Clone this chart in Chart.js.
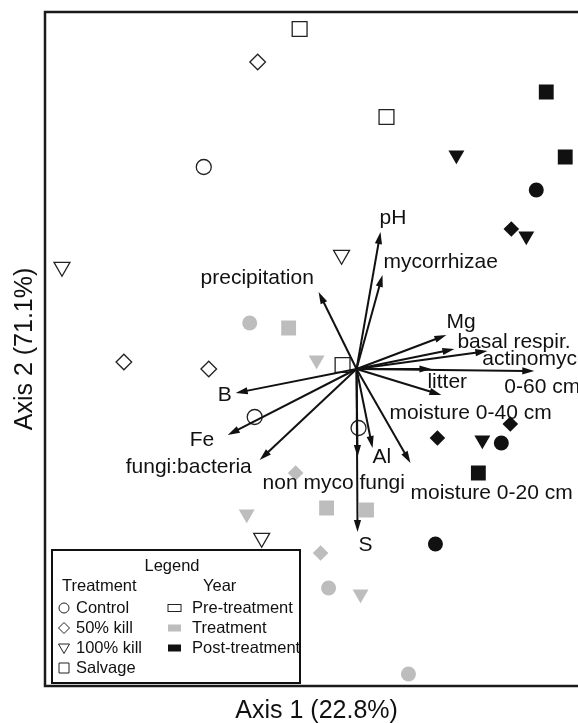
<!DOCTYPE html>
<html>
<head>
<meta charset="utf-8">
<script src="https://cdn.jsdelivr.net/npm/chart.js@4"></script>
<style>
  html, body { margin: 0; padding: 0; overflow: hidden; background: #fff; }
</style>
</head>
<body>
<canvas id="ordination" width="600" height="723"></canvas>
<script>
// group names
const treatments = ["Control", "50% kill", "100% kill", "Salvage"];
const years = ["Pre-treatment", "Treatment", "Post-treatment"];

// site scores [axis 1, axis 2], one array per year and treatment
const preControl = [[-0.765, 1.01], [-0.51, -0.24], [0.01, -0.295]];
const pre50 = [[-0.495, 1.535], [-1.165, 0.035], [-0.74, 0.0]];
const pre100 = [[-1.475, 0.51], [-0.075, 0.57], [-0.475, -0.845]];
const preSalvage = [[-0.285, 1.70], [0.15, 1.26], [-0.07, 0.02]];

const trtControl = [[-0.535, 0.23], [-0.14, -1.095], [0.26, -1.525]];
const trt50 = [[-0.305, -0.52], [-0.18, -0.92]];
const trt100 = [[-0.2, 0.045], [-0.55, -0.725], [0.02, -1.125]];
const trtSalvage = [[-0.34, 0.205], [-0.15, -0.695], [0.05, -0.705]];

const postControl = [[0.9, 0.895], [0.725, -0.37], [0.395, -0.875]];
const post50 = [[0.775, 0.7], [0.77, -0.275], [0.405, -0.345]];
const post100 = [[0.5, 1.07], [0.85, 0.665], [0.63, -0.355]];
const postSalvage = [[0.95, 1.385], [1.045, 1.06], [0.61, -0.52]];

// environmental vectors (arrow tips)
const vectorNames = ["pH", "mycorrhizae", "precipitation", "Mg", "basal respir.", "actinomycetes",
  "0-60 cm", "litter", "moisture 0-40 cm", "B", "Fe", "fungi:bacteria", "non myco fungi", "S", "Al",
  "moisture 0-20 cm"];
const vectorX = [0.12, 0.13, -0.19, 0.45, 0.49, 0.655, 0.89, 0.375, 0.425, -0.605, -0.645, -0.485,
  0.005, 0.005, 0.08, 0.27];
const vectorY = [0.685, 0.47, 0.385, 0.17, 0.10, 0.09, -0.01, 0.0, -0.13, -0.12, -0.33, -0.455,
  -0.44, -0.815, -0.395, -0.47];

// label placement, pixels from the arrow tip (left edge, middle)
const labelOffset = [[-1, -14], [1, -13], [-118, -14], [0, -13], [3, -7], [-5, 8], [-30, 16], [-4, 13],
  [-52, 18], [-18, 2], [-38, 5], [-134, 7], [-95, 26], [1, 13], [0, 9], [0, 30]];

const FONT = '"Liberation Sans", Arial, Helvetica, sans-serif';
const INK = "#111";
const GREY = "#bdbdbd";

// look per year and per treatment
const yearStyle = [
  { fill: "#fff", stroke: "#222", width: 1.3 },
  { fill: GREY, stroke: GREY, width: 0 },
  { fill: INK, stroke: INK, width: 0 }
];
const treatmentStyle = [
  { pointStyle: "circle", radius: 7.5, rotation: 0 },
  { pointStyle: "rectRot", radius: 7.8, rotation: 0 },
  { pointStyle: "triangle", radius: 9.2, rotation: 180 },
  { pointStyle: "rect", radius: 10.5, rotation: 0 }
];

const groups = [
  [preControl, pre50, pre100, preSalvage],
  [trtControl, trt50, trt100, trtSalvage],
  [postControl, post50, post100, postSalvage]
];

let datasets = [];
groups.forEach((row, yi) => {
  row.forEach((pts, ti) => {
    const ys = yearStyle[yi], ts = treatmentStyle[ti];
    datasets.push({
      label: years[yi] + " / " + treatments[ti],
      data: pts.map(p => ({ x: p[0], y: p[1] })),
      pointStyle: ts.pointStyle,
      pointRadius: ts.radius,
      rotation: ts.rotation,
      backgroundColor: ys.fill,
      borderColor: ys.stroke,
      borderWidth: ys.width
    });
  });
});

function arrow(ctx, x0, y0, x1, y1) {
  const ang = Math.atan2(y1 - y0, x1 - x0);
  const head = 12, half = 3.6;
  const c = Math.cos(ang), s = Math.sin(ang);
  ctx.beginPath();
  ctx.moveTo(x0, y0);
  ctx.lineTo(x1 - c * head * 0.7, y1 - s * head * 0.7);
  ctx.stroke();
  ctx.beginPath();
  ctx.moveTo(x1, y1);
  ctx.lineTo(x1 - head * c + half * s, y1 - head * s - half * c);
  ctx.lineTo(x1 - head * c - half * s, y1 - head * s + half * c);
  ctx.closePath();
  ctx.fill();
}

function drawSymbol(ctx, shape, x, y, fill, stroke) {
  ctx.beginPath();
  if (shape == 0) {
    ctx.arc(x, y, 5, 0, Math.PI * 2);
  } else if (shape == 1) {
    ctx.moveTo(x, y - 5.5); ctx.lineTo(x + 5.5, y); ctx.lineTo(x, y + 5.5); ctx.lineTo(x - 5.5, y);
    ctx.closePath();
  } else if (shape == 2) {
    ctx.moveTo(x - 5.5, y - 4); ctx.lineTo(x + 5.5, y - 4); ctx.lineTo(x, y + 5.5);
    ctx.closePath();
  } else {
    ctx.rect(x - 5, y - 5, 10, 10);
  }
  ctx.fillStyle = fill;
  ctx.fill();
  ctx.lineWidth = 1;
  ctx.strokeStyle = stroke;
  ctx.stroke();
}

// arrows, labels, frame, axis titles and the legend box
const biplotExtras = {
  id: "biplotExtras",
  afterDatasetsDraw(chart) {
    const { ctx, chartArea: a, scales: { x, y } } = chart;
    const x0 = x.getPixelForValue(0), y0 = y.getPixelForValue(0);
    ctx.save();

    ctx.strokeStyle = INK;
    ctx.fillStyle = INK;
    ctx.lineWidth = 2;
    for (let i = 0; i < vectorNames.length; i++) {
      arrow(ctx, x0, y0, x.getPixelForValue(vectorX[i]), y.getPixelForValue(vectorY[i]));
    }

    ctx.font = "21px " + FONT;
    ctx.textAlign = "left";
    ctx.textBaseline = "middle";
    for (let i = 0; i < vectorNames.length; i++) {
      const tx = x.getPixelForValue(vectorX[i]), ty = y.getPixelForValue(vectorY[i]);
      ctx.fillText(vectorNames[i], tx + labelOffset[i][0], ty + labelOffset[i][1]);
    }

    // plot frame
    ctx.lineWidth = 2.5;
    ctx.strokeStyle = "#1a1a1a";
    ctx.strokeRect(a.left, a.top, a.right - a.left, a.bottom - a.top);

    // axis titles
    ctx.fillStyle = INK;
    ctx.font = "25px " + FONT;
    ctx.textAlign = "center";
    ctx.fillText("Axis 1 (22.8%)", (a.left + a.right) / 2, a.bottom + 25);
    ctx.save();
    ctx.translate(25, (a.top + a.bottom) / 2);
    ctx.rotate(-Math.PI / 2);
    ctx.fillText("Axis 2 (71.1%)", 0, 0);
    ctx.restore();

    // legend
    const lx = a.left + 7, ly = 550, lw = 248, lh = 133;
    ctx.fillStyle = "#fff";
    ctx.fillRect(lx, ly, lw, lh);
    ctx.lineWidth = 2;
    ctx.strokeStyle = INK;
    ctx.strokeRect(lx, ly, lw, lh);

    ctx.fillStyle = INK;
    ctx.font = "16.5px " + FONT;
    ctx.textAlign = "center";
    ctx.fillText("Legend", lx + 120, ly + 16);
    ctx.textAlign = "left";
    ctx.fillText("Treatment", lx + 10, ly + 36);
    ctx.fillText("Year", lx + 151, ly + 36);

    treatments.forEach((t, i) => {
      const ry = ly + 58 + i * 20;
      drawSymbol(ctx, i, lx + 12, ry, "#fff", "#222");
      ctx.fillStyle = INK;
      ctx.fillText(t, lx + 24, ry);
    });
    years.forEach((yr, i) => {
      const ry = ly + 58 + i * 20;
      const st = yearStyle[i];
      ctx.fillStyle = st.fill;
      ctx.fillRect(lx + 116, ry - 3.5, 13, 7);
      if (i == 0) {
        ctx.lineWidth = 1;
        ctx.strokeStyle = "#222";
        ctx.strokeRect(lx + 116, ry - 3.5, 13, 7);
      }
      ctx.fillStyle = INK;
      ctx.fillText(yr, lx + 140, ry);
    });

    ctx.restore();
  }
};

const chart = new Chart(document.getElementById("ordination").getContext("2d"), {
  type: "scatter",
  data: { datasets: datasets },
  options: {
    responsive: false,
    animation: false,
    devicePixelRatio: 1,
    layout: { padding: { left: 45, top: 12, right: 11, bottom: 37 } },
    scales: {
      x: { display: false, min: -1.56, max: 1.16 },
      y: { display: false, min: -1.585, max: 1.785 }
    },
    plugins: {
      legend: { display: false },
      tooltip: { enabled: false }
    }
  },
  plugins: [biplotExtras]
});
</script>
</body>
</html>
